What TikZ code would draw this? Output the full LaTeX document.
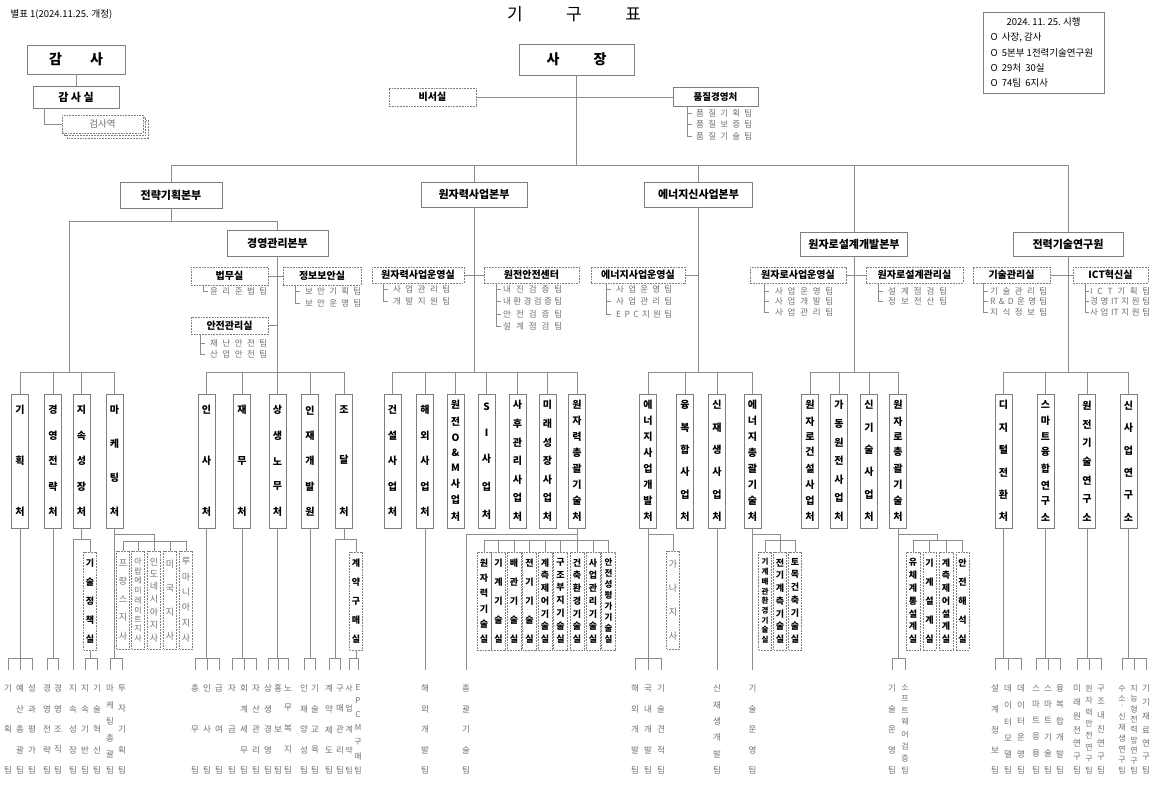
\documentclass[tikz,border=0pt]{standalone}
\usepackage{fontspec}
\setmainfont{Noto Sans CJK KR}
\definecolor{ln}{HTML}{8C8C8C}
\definecolor{bd}{HTML}{7F7F7F}
\definecolor{tg}{HTML}{707070}
\newcommand\vt[2]{\vbox to #1{\offinterlineskip\foreach \ch [count=\ci] in {#2}{\ifnum\ci>1 \vfill\fi\hbox to 0pt{\hss\ch\hss}}}}
\newcommand\brk[2]{\draw[ln] (#1.north |- L658) -- (#2.north |- L658);}
\newcommand\td[1]{\draw[ln] (#1.north |- L658) -- (#1.north |- L670);}
\tikzset{
 ln/.style={draw=ln, line width=0.7pt},
 tl/.style={draw=ln, line width=0.6pt},
 box/.style={draw=bd, line width=0.8pt, fill=white, inner sep=0pt},
 dsh/.style={dash pattern=on 1.8pt off 1pt},
 sbox/.style={box, font=\bfseries\fontsize{11}{11}\selectfont},
 dbox/.style={box, dsh, font=\bfseries\fontsize{10}{10}\selectfont},
 cbox/.style={box, minimum width=17pt, minimum height=134pt, font=\bfseries\fontsize{10}{10}\selectfont},
 sub/.style={box, dsh, minimum width=13pt, minimum height=98pt, font=\bfseries\fontsize{9}{9}\selectfont},
 subg/.style={sub, font=\fontsize{9}{9}\selectfont, text=tg},
 team/.style={text=tg, inner sep=0pt, font=\fontsize{8.5}{8.5}\selectfont},
 lst/.style={text=tg, inner sep=0pt, anchor=west, font=\fontsize{8.5}{8.5}\selectfont},
}
\begin{document}
\begin{tikzpicture}[x=1pt,y=-1pt]
\useasboundingbox (0,0) rectangle (1153,787);
\fill[white] (0,0) rectangle (1153,787);
\coordinate (L372) at (0,372);
\coordinate (L534) at (0,534);
\coordinate (L539) at (0,539);
\coordinate (L540) at (0,540);
\coordinate (L658) at (0,658);
\coordinate (L670) at (0,670);

% ---- header texts
\node[font=\fontsize{17}{17}\selectfont] (title) at (574,14) {\makebox[134pt][s]{기 구 표}};
\node[anchor=west, font=\fontsize{9.5}{9.5}\selectfont] (bp) at (7,15) {별표 1(2024.11.25. 개정)};

% legend
\node[draw=bd, line width=0.8pt, minimum width=121pt, minimum height=81pt] (legend) at (1043.5,52.5) {};
\node[font=\fontsize{9.5}{9.5}\selectfont] (lg0) at (1043.5,22) {2024.\ 11.\ 25.\ 시행};
\node[anchor=west, font=\fontsize{9.5}{9.5}\selectfont] (lg1) at (987,37.5) {O\ \ 사장, 감사};
\node[anchor=west, font=\fontsize{9.5}{9.5}\selectfont] (lg2) at (987,52.5) {O\ \ 5본부\ 1전력기술연구원};
\node[anchor=west, font=\fontsize{9.5}{9.5}\selectfont] (lg3) at (987,67.5) {O\ \ 29처\ \ 30실};
\node[anchor=west, font=\fontsize{9.5}{9.5}\selectfont] (lg4) at (987,83) {O\ \ 74팀\ \ 6지사};

% ---- 감사
\node[sbox, minimum width=98pt, minimum height=29pt, font=\bfseries\fontsize{14}{14}\selectfont] (gamsa) at (76,59.5) {\makebox[54pt][s]{감 사}};
\node[sbox, minimum width=86pt, minimum height=22pt] (gamsasil) at (76,97) {감 사 실};
\draw[ln] (gamsa) -- (gamsasil);
\draw[box, dsh] (67,120) rectangle (148,138);
\draw[box, dsh] (64.5,117.5) rectangle (145.5,135.5);
\node[box, dsh, minimum width=81pt, minimum height=18pt, font=\fontsize{9.5}{9.5}\selectfont, text=tg] (geomsa) at (102.5,124) {검사역};
\coordinate (gs1) at (44,108);
\draw[ln] (gs1) |- (geomsa.west);

% ---- 사장
\node[sbox, minimum width=115pt, minimum height=31pt, font=\bfseries\fontsize{14}{14}\selectfont] (sajang) at (576.5,59.5) {\makebox[60pt][s]{사 장}};
\node[dbox, minimum width=87pt, minimum height=18pt] (biseo) at (432.5,97) {비서실};
\node[sbox, minimum width=85pt, minimum height=19pt, font=\bfseries\fontsize{9.5}{9.5}\selectfont] (pumjil) at (715.5,97) {품질경영처};
\draw[ln] (biseo.east) -- (pumjil.west);
\draw[tl] (687,106.5) -- (687,136);
\foreach \yy in {113,124.5,136} \draw[tl] (687,\yy) -- ++(5,0);
\node[lst] (q1) at (696,113) {\makebox[56pt][s]{품 질 기 획 팀}};
\node[lst] (q2) at (696,124.5) {\makebox[56pt][s]{품 질 보 증 팀}};
\node[lst] (q3) at (696,136) {\makebox[56pt][s]{품 질 기 술 팀}};

% ---- 본부
\node[sbox, minimum width=102pt, minimum height=26pt] (b1) at (171,195) {전략기획본부};
\node[sbox, minimum width=106pt, minimum height=25pt] (b2) at (474,194.5) {원자력사업본부};
\node[sbox, minimum width=108pt, minimum height=25pt] (b3) at (698.5,194.5) {에너지신사업본부};
\node[sbox, minimum width=101pt, minimum height=26pt] (b4) at (277.5,243) {경영관리본부};
\node[sbox, minimum width=107pt, minimum height=24pt] (b5) at (854,244) {원자로설계개발본부};
\node[sbox, minimum width=110pt, minimum height=24pt] (b6) at (1068,244) {전력기술연구원};
\coordinate (top1) at (171,165);
\coordinate (top2) at (1068,165);
\draw[ln] (sajang.south) -- (sajang.south |- top1);
\draw[ln] (top1) -- (top2);
\foreach \nd in {b1,b2,b3,b5,b6} \draw[ln] (\nd.north) -- (\nd.north |- top1);
\coordinate (m1) at (69,221);
\draw[ln] (b1.south) -- (b1.south |- m1);
\draw[ln] (m1 |- L372) -- (m1) -- (b4.north |- m1) -- (b4.north);
\foreach \nd in {b2,b3,b4,b5,b6} \draw[ln] (\nd.south) -- (\nd.south |- L372);

% ---- side offices
\node[dbox, minimum width=77pt, minimum height=18pt] (s1) at (229.5,276) {법무실};
\node[dbox, minimum width=78pt, minimum height=18pt] (s2) at (322,276) {정보보안실};
\node[dbox, minimum width=77pt, minimum height=17pt] (s0) at (229.5,325.5) {안전관리실};
\node[dbox, minimum width=92pt, minimum height=16pt] (s3) at (418,275) {원자력사업운영실};
\node[dbox, minimum width=95pt, minimum height=16pt] (s4) at (531.5,275) {원전안전센터};
\node[dbox, minimum width=94pt, minimum height=16pt] (s5) at (638,275) {에너지사업운영실};
\node[dbox, minimum width=96pt, minimum height=16pt] (s6) at (798,275) {원자로사업운영실};
\node[dbox, minimum width=97pt, minimum height=16pt] (s7) at (914.5,275) {원자로설계관리실};
\node[dbox, minimum width=77pt, minimum height=16pt] (s8) at (1011.5,275) {기술관리실};
\node[dbox, minimum width=75pt, minimum height=16pt] (s9) at (1110.5,275) {ICT혁신실};
\draw[ln] (s1.east) -- (s2.west);
\draw[ln] (s0.east) -- (s0.east -| b4.south);
\draw[ln] (s3.east) -- (s4.west);
\draw[ln] (s5.east) -- (s5.east -| b3.south);
\draw[ln] (s6.east) -- (s7.west);
\draw[ln] (s8.east) -- (s9.west);

% side team lists
\draw[tl] (203,285) -- (203,291); \draw[tl] (203,291) -- ++(5,0);
\node[lst] (l11) at (210,291) {\makebox[57pt][s]{윤 리 준 법 팀}};
\draw[tl] (295,285) -- (295,303); \foreach \yy in {291,303} \draw[tl] (295,\yy) -- ++(5,0);
\node[lst] (l21) at (305,291) {\makebox[56pt][s]{보 안 기 획 팀}};
\node[lst] (l22) at (305,303) {\makebox[56pt][s]{보 안 운 영 팀}};
\draw[tl] (200,334) -- (200,354); \foreach \yy in {343,354} \draw[tl] (200,\yy) -- ++(5,0);
\node[lst] (l01) at (210,343) {\makebox[57pt][s]{재 난 안 전 팀}};
\node[lst] (l02) at (210,354) {\makebox[57pt][s]{산 업 안 전 팀}};
\draw[tl] (383,283) -- (383,301); \foreach \yy in {289,301} \draw[tl] (383,\yy) -- ++(5,0);
\node[lst] (l31) at (393,289) {\makebox[57pt][s]{사 업 관 리 팀}};
\node[lst] (l32) at (393,301) {\makebox[57pt][s]{개 발 지 원 팀}};
\draw[tl] (496,283) -- (496,326); \foreach \yy in {289,301,314,326} \draw[tl] (496,\yy) -- ++(5,0);
\node[lst] (l41) at (503,289) {\makebox[59pt][s]{내 진 검 증 팀}};
\node[lst] (l42) at (503,301) {\makebox[59pt][s]{내 환 경 검 증 팀}};
\node[lst] (l43) at (503,314) {\makebox[59pt][s]{안 전 검 증 팀}};
\node[lst] (l44) at (503,326) {\makebox[59pt][s]{설 계 점 검 팀}};
\draw[tl] (606,283) -- (606,314); \foreach \yy in {289,301,314} \draw[tl] (606,\yy) -- ++(5,0);
\node[lst] (l51) at (616,289) {\makebox[56pt][s]{사 업 운 영 팀}};
\node[lst] (l52) at (616,301) {\makebox[56pt][s]{사 업 관 리 팀}};
\node[lst] (l53) at (616,314) {\makebox[56pt][s]{E P C 지 원 팀}};
\draw[tl] (764,283) -- (764,312); \foreach \yy in {291,301.5,312} \draw[tl] (764,\yy) -- ++(5,0);
\node[lst] (l61) at (775,291) {\makebox[58pt][s]{사 업 운 영 팀}};
\node[lst] (l62) at (775,301.5) {\makebox[58pt][s]{사 업 개 발 팀}};
\node[lst] (l63) at (775,312) {\makebox[58pt][s]{사 업 관 리 팀}};
\draw[tl] (878,283) -- (878,301); \foreach \yy in {291,301} \draw[tl] (878,\yy) -- ++(5,0);
\node[lst] (l71) at (888,291) {\makebox[59pt][s]{설 계 점 검 팀}};
\node[lst] (l72) at (888,301) {\makebox[59pt][s]{정 보 전 산 팀}};
\draw[tl] (983,283) -- (983,312); \foreach \yy in {291,301.5,312} \draw[tl] (983,\yy) -- ++(5,0);
\node[lst] (l81) at (990,291) {\makebox[57pt][s]{기 술 관 리 팀}};
\node[lst] (l82) at (990,301.5) {\makebox[57pt][s]{R \& D 운 영 팀}};
\node[lst] (l83) at (990,312) {\makebox[57pt][s]{지 식 정 보 팀}};
\draw[tl] (1085,283) -- (1085,312); \foreach \yy in {291,301.5,312} \draw[tl] (1085,\yy) -- ++(4,0);
\node[lst] (l91) at (1090,291) {\makebox[60pt][s]{I C T 기 획 팀}};
\node[lst] (l92) at (1090,301.5) {\makebox[60pt][s]{경 영 IT 지 원 팀}};
\node[lst] (l93) at (1090,312) {\makebox[60pt][s]{사 업 IT 지 원 팀}};

% ---- 처 row
\node[cbox] (c11) at (20,461) {\vt{110pt}{기,획,처}};
\node[cbox] (c12) at (53,461) {\vt{110pt}{경,영,전,략,처}};
\node[cbox] (c13) at (81.5,461) {\vt{110pt}{지,속,성,장,처}};
\node[cbox] (c14) at (114.5,461) {\vt{110pt}{마,케,팅,처}};
\node[cbox] (c21) at (206.5,461) {\vt{110pt}{인,사,처}};
\node[cbox] (c22) at (242,461) {\vt{110pt}{재,무,처}};
\node[cbox] (c23) at (277.5,461) {\vt{110pt}{상,생,노,무,처}};
\node[cbox] (c24) at (310,461) {\vt{110pt}{인,재,개,발,원}};
\node[cbox] (c25) at (344,461) {\vt{110pt}{조,달,처}};
\node[cbox] (c31) at (392.5,461) {\vt{110pt}{건,설,사,업,처}};
\node[cbox] (c32) at (425,461) {\vt{110pt}{해,외,사,업,처}};
\node[cbox] (c33) at (455.5,461) {\vt{120pt}{원,전,O,\&,M,사,업,처}};
\node[cbox] (c34) at (486.5,461) {\vt{115pt}{S,I,사,업,처}};
\node[cbox] (c35) at (517.5,461) {\vt{120pt}{사,후,관,리,사,업,처}};
\node[cbox] (c36) at (547.5,461) {\vt{120pt}{미,래,성,장,사,업,처}};
\node[cbox] (c37) at (577,461) {\vt{120pt}{원,자,력,총,괄,기,술,처}};
\node[cbox] (c41) at (648,461) {\vt{120pt}{에,너,지,사,업,개,발,처}};
\node[cbox] (c42) at (685,461) {\vt{120pt}{융,복,합,사,업,처}};
\node[cbox] (c43) at (717,461) {\vt{120pt}{신,재,생,사,업,처}};
\node[cbox] (c44) at (752.5,461) {\vt{120pt}{에,너,지,총,괄,기,술,처}};
\node[cbox] (c51) at (810,461) {\vt{120pt}{원,자,로,건,설,사,업,처}};
\node[cbox] (c52) at (839,461) {\vt{120pt}{가,동,원,전,사,업,처}};
\node[cbox] (c53) at (869,461) {\vt{120pt}{신,기,술,사,업,처}};
\node[cbox] (c54) at (898,461) {\vt{120pt}{원,자,로,총,괄,기,술,처}};
\node[cbox] (c61) at (1003.5,461) {\vt{120pt}{디,지,털,전,환,처}};
\node[cbox] (c62) at (1045.5,461) {\vt{120pt}{스,마,트,융,합,연,구,소}};
\node[cbox] (c63) at (1087,461) {\vt{120pt}{원,전,기,술,연,구,소}};
\node[cbox] (c64) at (1128.5,461) {\vt{120pt}{신,사,업,연,구,소}};
\foreach \nd in {c11,c12,c13,c14,c21,c22,c23,c24,c25,c31,c32,c33,c34,c35,c36,c37,c41,c42,c43,c44,c51,c52,c53,c54,c61,c62,c63,c64}
  \draw[ln] (\nd.north) -- (\nd.north |- L372);
\draw[ln] (c11.north |- L372) -- (c14.north |- L372);
\draw[ln] (c21.north |- L372) -- (c25.north |- L372);
\draw[ln] (c31.north |- L372) -- (c37.north |- L372);
\draw[ln] (c41.north |- L372) -- (c44.north |- L372);
\draw[ln] (c51.north |- L372) -- (c54.north |- L372);
\draw[ln] (c61.north |- L372) -- (c64.north |- L372);

% ---- sub boxes (실 / 지사)
\node[sub] (k1) at (90,601) {\vt{84pt}{기,술,정,책,실}};
\node[subg] (j1) at (123,600) {\vt{80pt}{프,랑,스,지,사}};
\node[subg, font=\fontsize{8}{8}\selectfont] (j2) at (138,600) {\vt{84pt}{아,랍,에,미,레,이,트,지,사}};
\node[subg] (j3) at (154,600) {\vt{84pt}{인,도,네,시,아,지,사}};
\node[subg] (j4) at (170,600) {\vt{80pt}{미,국,지,사}};
\node[subg] (j5) at (186,600) {\vt{84pt}{루,마,니,아,지,사}};
\node[sub] (k2) at (356,601) {\vt{84pt}{계,약,구,매,실}};
\node[sub, minimum width=14pt] (r1) at (484,601) {\vt{84pt}{원,자,력,기,술,실}};
\node[sub, minimum width=14pt] (r2) at (498.5,601) {\vt{84pt}{기,계,기,술,실}};
\node[sub, minimum width=14pt] (r3) at (514,601) {\vt{84pt}{배,관,기,술,실}};
\node[sub, minimum width=14pt] (r4) at (529.5,601) {\vt{84pt}{전,기,기,술,실}};
\node[sub, minimum width=14pt] (r5) at (545,601) {\vt{84pt}{계,측,제,어,기,술,실}};
\node[sub, minimum width=14pt] (r6) at (560.5,601) {\vt{84pt}{구,조,부,지,기,술,실}};
\node[sub, minimum width=14pt] (r7) at (577,601) {\vt{84pt}{건,축,환,경,기,술,실}};
\node[sub, minimum width=14pt] (r8) at (593,601) {\vt{84pt}{사,업,관,리,기,술,실}};
\node[sub, minimum width=14pt, font=\bfseries\fontsize{8.5}{8.5}\selectfont] (r9) at (608.5,601) {\vt{84pt}{안,전,성,평,가,기,술,실}};
\node[subg] (g1) at (673,600) {\vt{80pt}{가,나,지,사}};
\node[sub, font=\bfseries\fontsize{7.5}{7.5}\selectfont] (e1) at (765,601) {\vt{84pt}{기,계,배,관,환,경,기,술,실}};
\node[sub] (e2) at (780,601) {\vt{84pt}{전,기,계,측,기,술,실}};
\node[sub] (e3) at (795,601) {\vt{84pt}{토,목,건,축,기,술,실}};
\node[sub, minimum width=14pt] (n1) at (913,601) {\vt{84pt}{유,체,계,통,설,계,실}};
\node[sub] (n2) at (929.5,601) {\vt{84pt}{기,계,설,계,실}};
\node[sub, minimum width=14pt] (n3) at (946,601) {\vt{84pt}{계,측,제,어,설,계,실}};
\node[sub] (n4) at (962.5,601) {\vt{84pt}{안,전,해,석,실}};

% ---- teams
\node[team] (t11) at (8,729.5) {\vt{89pt}{기,획,팀}};
\node[team] (t12) at (20,729.5) {\vt{89pt}{예,산,총,괄,팀}};
\node[team] (t13) at (32,729.5) {\vt{89pt}{성,과,평,가,팀}};
\node[team] (t14) at (47,729.5) {\vt{89pt}{경,영,전,략,팀}};
\node[team] (t15) at (58,729.5) {\vt{89pt}{경,영,조,직,팀}};
\node[team] (t16) at (73,729.5) {\vt{89pt}{지,속,성,장,팀}};
\node[team] (t17) at (85,729.5) {\vt{89pt}{지,속,기,반,팀}};
\node[team] (t18) at (97,729.5) {\vt{89pt}{기,술,혁,신,팀}};
\node[team] (t19) at (110,729.5) {\vt{89pt}{마,케,팅,총,괄,팀}};
\node[team] (t1a) at (122,729.5) {\vt{89pt}{투,자,기,획,팀}};
\node[team] (t21) at (195,729.5) {\vt{89pt}{총,무,팀}};
\node[team] (t22) at (207,729.5) {\vt{89pt}{인,사,팀}};
\node[team] (t23) at (219,729.5) {\vt{89pt}{급,여,팀}};
\node[team] (t24) at (232,729.5) {\vt{89pt}{자,금,팀}};
\node[team] (t25) at (244,729.5) {\vt{89pt}{회,계,세,무,팀}};
\node[team] (t26) at (256,729.5) {\vt{89pt}{자,산,관,리,팀}};
\node[team] (t27) at (268,729.5) {\vt{89pt}{상,생,경,영,팀}};
\node[team] (t28) at (278,729.5) {\vt{89pt}{홍,보,팀}};
\node[team] (t29) at (288,729.5) {\vt{89pt}{노,무,복,지,팀}};
\node[team] (t2a) at (304,729.5) {\vt{89pt}{인,재,양,성,팀}};
\node[team] (t2b) at (315,729.5) {\vt{89pt}{기,술,교,육,팀}};
\node[team] (t2c) at (329,729.5) {\vt{89pt}{계,약,제,도,팀}};
\node[team] (t2d) at (340,729.5) {\vt{89pt}{구,매,관,리,팀}};
\node[team, font=\fontsize{8}{8}\selectfont] (t2e) at (349,729.5) {\vt{89pt}{사,업,계,약,팀}};
\node[team, font=\fontsize{8}{8}\selectfont] (t2f) at (358,729.5) {\vt{89pt}{E,P,C,M,구,매,팀}};
\node[team] (t31) at (425,729.5) {\vt{89pt}{해,외,개,발,팀}};
\node[team] (t32) at (466,729.5) {\vt{89pt}{총,괄,기,술,팀}};
\node[team] (t41) at (635,729.5) {\vt{89pt}{해,외,개,발,팀}};
\node[team] (t42) at (648,729.5) {\vt{89pt}{국,내,개,발,팀}};
\node[team] (t43) at (661,729.5) {\vt{89pt}{기,술,견,적,팀}};
\node[team] (t44) at (717,729.5) {\vt{89pt}{신,재,생,개,발,팀}};
\node[team] (t45) at (752.5,729.5) {\vt{89pt}{기,술,운,영,팀}};
\node[team] (t51) at (892,729.5) {\vt{89pt}{기,술,운,영,팀}};
\node[team, font=\fontsize{8}{8}\selectfont] (t52) at (905,729.5) {\vt{89pt}{소,프,트,웨,어,검,증,팀}};
\node[team] (t61) at (995,729.5) {\vt{89pt}{설,계,정,보,팀}};
\node[team] (t62) at (1008,729.5) {\vt{89pt}{데,이,터,모,델,팀}};
\node[team] (t63) at (1021,729.5) {\vt{89pt}{데,이,터,운,영,팀}};
\node[team] (t64) at (1036,729.5) {\vt{89pt}{스,마,트,응,용,팀}};
\node[team] (t65) at (1048,729.5) {\vt{89pt}{스,마,트,기,술,팀}};
\node[team] (t66) at (1060,729.5) {\vt{89pt}{융,복,합,개,발,팀}};
\node[team] (t67) at (1077,729.5) {\vt{89pt}{미,래,원,전,연,구,팀}};
\node[team, font=\fontsize{8}{8}\selectfont] (t68) at (1089,729.5) {\vt{89pt}{원,자,력,안,전,연,구,팀}};
\node[team] (t69) at (1101,729.5) {\vt{89pt}{구,조,내,진,연,구,팀}};
\node[team, font=\fontsize{8}{8}\selectfont] (t6a) at (1122,729.5) {\vt{89pt}{수,소,·,신,재,생,연,구,팀}};
\node[team, font=\fontsize{8}{8}\selectfont] (t6b) at (1134,729.5) {\vt{89pt}{지,능,형,전,력,망,연,구,팀}};
\node[team] (t6c) at (1146,729.5) {\vt{89pt}{기,기,재,료,연,구,팀}};

% ---- connectors below 처
\draw[ln] (c11.south) -- (c11.south |- L658); \brk{t11}{t13} \td{t11}\td{t12}\td{t13}
\draw[ln] (c12.south) -- (c12.south |- L658); \brk{t14}{t15} \td{t14}\td{t15}
\draw[ln] (c13.south) -- (c13.south |- L539);
\draw[ln] (t16.north |- L670) -- (t16.north |- L539) -- (k1.north |- L539) -- (k1.north);
\draw[ln] (k1.south) -- (k1.south |- L658); \brk{t17}{t18} \td{t17}\td{t18}
\draw[ln] (c14.south) -- (c14.south |- L658); \brk{t19}{t1a} \td{t19}\td{t1a}
\coordinate (mk) at (154,541);
\draw[ln] (c14.south |- L534) -- (j3.north |- L534) -- (j3.north);
\draw[ln] (j1.north |- mk) -- (j5.north |- mk);
\foreach \nd in {j1,j2,j4,j5} \draw[ln] (\nd.north |- mk) -- (\nd.north);
\draw[ln] (c21.south) -- (c21.south |- L658); \brk{t21}{t23} \td{t21}\td{t22}\td{t23}
\draw[ln] (c22.south) -- (c22.south |- L658); \brk{t24}{t26} \td{t24}\td{t25}\td{t26}
\draw[ln] (c23.south) -- (c23.south |- L658); \brk{t27}{t29} \td{t27}\td{t28}\td{t29}
\draw[ln] (c24.south) -- (c24.south |- L658); \brk{t2a}{t2b} \td{t2a}\td{t2b}
\coordinate (jd) at (335,539);
\draw[ln] (c25.south) -- (c25.south |- jd);
\draw[ln] (jd |- L658) -- (jd) -- (k2.north |- jd) -- (k2.north);
\brk{t2c}{t2d} \td{t2c}\td{t2d}
\draw[ln] (k2.south) -- (k2.south |- L658); \brk{t2e}{t2f} \td{t2e}\td{t2f}
\draw[ln] (c32.south) -- (c32.south |- L670);
\draw[ln] (c37.south) -- (r7.north);
\draw[ln] (c37.south |- L534) -- (t32.north |- L534) -- (t32.north |- L670);
\draw[ln] (r1.north |- L540) -- (r9.north |- L540);
\foreach \nd in {r1,r2,r3,r4,r5,r6,r8,r9} \draw[ln] (\nd.north |- L540) -- (\nd.north);
\draw[ln] (c41.south) -- (c41.south |- L658); \brk{t41}{t43} \td{t41}\td{t42}\td{t43}
\draw[ln] (c41.south |- L534) -- (g1.north |- L534) -- (g1.north);
\draw[ln] (c43.south) -- (c43.south |- L670);
\draw[ln] (c44.south) -- (c44.south |- L670);
\draw[ln] (c44.south |- L534) -- (e2.north |- L534) -- (e2.north);
\draw[ln] (e1.north |- L540) -- (e3.north |- L540);
\foreach \nd in {e1,e3} \draw[ln] (\nd.north |- L540) -- (\nd.north);
\draw[ln] (c54.south) -- (c54.south |- L658); \brk{t51}{t52} \td{t51}\td{t52}
\coordinate (nb) at (937,534);
\draw[ln] (c54.south |- nb) -- (nb) -- (nb |- L540);
\draw[ln] (n1.north |- L540) -- (n4.north |- L540);
\foreach \nd in {n1,n2,n3,n4} \draw[ln] (\nd.north |- L540) -- (\nd.north);
\draw[ln] (c61.south) -- (c61.south |- L658); \brk{t61}{t63} \td{t61}\td{t62}\td{t63}
\draw[ln] (c62.south) -- (c62.south |- L658); \brk{t64}{t66} \td{t64}\td{t65}\td{t66}
\draw[ln] (c63.south) -- (c63.south |- L658); \brk{t67}{t69} \td{t67}\td{t68}\td{t69}
\draw[ln] (c64.south) -- (c64.south |- L658); \brk{t6a}{t6c} \td{t6a}\td{t6b}\td{t6c}
\end{tikzpicture}
\end{document}
